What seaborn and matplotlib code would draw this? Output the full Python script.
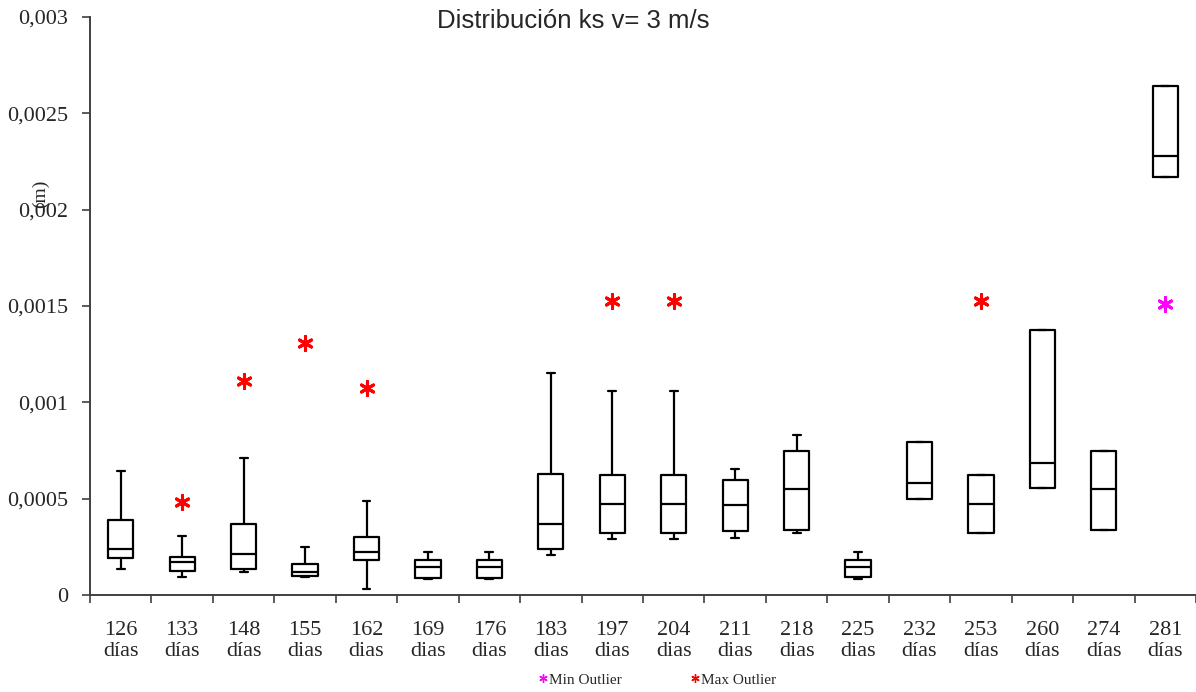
import numpy as np
import pandas as pd
import seaborn as sns
import matplotlib.pyplot as plt
from matplotlib.lines import Line2D

# Datos (ks en m)
dias = ["126", "133", "148", "155", "162", "169", "176", "183", "197",
        "204", "211", "218", "225", "232", "253", "260", "274", "281"]
sufijo = ["días", "días", "días", "dias", "dias", "dias", "dias", "dias", "dias",
          "dias", "dias", "dias", "dias", "días", "días", "días", "días", "días"]

minimo = [0.000133, 0.000092, 0.000118, 0.000095, 0.000030, 0.000085, 0.000085, 0.000206, 0.000289,
          0.000289, 0.000294, 0.000320, 0.000085, 0.000497, 0.000324, 0.000556, 0.000335, 0.002170]
q1 = [0.000194, 0.000123, 0.000133, 0.000100, 0.000180, 0.000090, 0.000090, 0.000237, 0.000323,
      0.000323, 0.000331, 0.000335, 0.000093, 0.000497, 0.000324, 0.000556, 0.000335, 0.002170]
mediana = [0.000237, 0.000173, 0.000213, 0.000118, 0.000223, 0.000144, 0.000144, 0.000368, 0.000472,
           0.000472, 0.000467, 0.000550, 0.000146, 0.000582, 0.000472, 0.000686, 0.000550, 0.002279]
q3 = [0.000388, 0.000196, 0.000368, 0.000159, 0.000300, 0.000180, 0.000180, 0.000628, 0.000621,
      0.000621, 0.000597, 0.000747, 0.000182, 0.000794, 0.000623, 0.001377, 0.000747, 0.002642]
maximo = [0.000644, 0.000305, 0.000711, 0.000248, 0.000488, 0.000222, 0.000222, 0.001150, 0.001059,
          0.001059, 0.000654, 0.000830, 0.000223, 0.000794, 0.000623, 0.001377, 0.000747, 0.002642]

# Outliers
max_out_dia = ["133", "148", "155", "162", "197", "204", "253"]
max_out_val = [0.000484, 0.00111, 0.00131, 0.001076, 0.001527, 0.001527, 0.001527]
min_out_dia = ["281"]
min_out_val = [0.00151]

yticks = [0, 0.0005, 0.001, 0.0015, 0.002, 0.0025, 0.003]
ytick_labels = ["0", "0,0005", "0,001", "0,0015", "0,002", "0,0025", "0,003"]

etiquetas = [f"{d}\n{s}" for d, s in zip(dias, sufijo)]
mapa = dict(zip(dias, etiquetas))

# cinco valores por categoria -> cuartiles exactos con whis=(0, 100)
filas = []
for lab, a, b, c, d, e in zip(etiquetas, minimo, q1, mediana, q3, maximo):
    for v in (a, b, c, d, e):
        filas.append({"dia": lab, "ks": v})
df = pd.DataFrame(filas)

df_max = pd.DataFrame({"dia": [mapa[d] for d in max_out_dia], "ks": max_out_val})
df_min = pd.DataFrame({"dia": [mapa[d] for d in min_out_dia], "ks": min_out_val})

sns.set_style("ticks")
plt.rcParams["font.family"] = ["Liberation Serif", "DejaVu Serif"]

fig = plt.figure(figsize=(11.96, 6.92), dpi=100)
ax = fig.add_axes([90 / 1196, 1 - 595 / 692, 1 - 90 / 1196, (595 - 17) / 692])

sns.boxplot(data=df, x="dia", y="ks", order=etiquetas, whis=(0, 100), width=0.41,
            fill=False, color="black", linewidth=1.6, showfliers=False,
            capwidths=0.13, ax=ax)

ast = (6, 2, 0)
sns.stripplot(data=df_max, x="dia", y="ks", order=etiquetas, jitter=False,
              marker=ast, color="#FF0000", size=10, linewidth=2.2, ax=ax)
sns.stripplot(data=df_min, x="dia", y="ks", order=etiquetas, jitter=False,
              marker=ast, color="#FF00FF", size=10, linewidth=2.2, ax=ax)

ax.set_ylim(0, 0.003)
ax.set_xlim(-0.5, len(etiquetas) - 0.5)
ax.set_yticks(yticks)
ax.set_yticklabels(ytick_labels, fontsize=16)
ax.set_xticks(np.arange(-0.5, len(etiquetas), 1))
ax.set_xticklabels([])
ax.set_xticks(np.arange(len(etiquetas)), minor=True)
ax.set_xticklabels(etiquetas, minor=True, fontsize=16, linespacing=1.1)
ax.tick_params(axis="x", which="minor", length=0, pad=19)
ax.tick_params(axis="both", which="major", length=6, width=1.2, color="#404040")
ax.tick_params(axis="y", pad=10)
ax.set_xlabel("")
ax.set_ylabel("")
sns.despine(ax=ax)
for s in ("left", "bottom"):
    ax.spines[s].set_color("#404040")
    ax.spines[s].set_linewidth(1.4)
ax.set_clip_on(False)

fig.text(573 / 1196, 1 - 28 / 692, "Distribución ks v= 3 m/s", ha="center", va="baseline",
         fontsize=18.5, family=["Liberation Sans", "DejaVu Sans"])
fig.text(40 / 1196, 1 - 194 / 692, "(m)", rotation=90, ha="center", va="center", fontsize=14)

handles = [Line2D([], [], linestyle="none", marker=ast, color="#FF00FF", markersize=6, markeredgewidth=1),
           Line2D([], [], linestyle="none", marker=ast, color="#FF0000", markersize=6, markeredgewidth=1)]
fig.legend(handles, ["Min Outlier", "Max Outlier"], loc="lower center", ncol=2, frameon=False,
           bbox_to_anchor=(657 / 1196, -0.012), fontsize=11, handlelength=0.6,
           handletextpad=0.1, columnspacing=4.5)

plt.savefig("out.png", dpi=100)
